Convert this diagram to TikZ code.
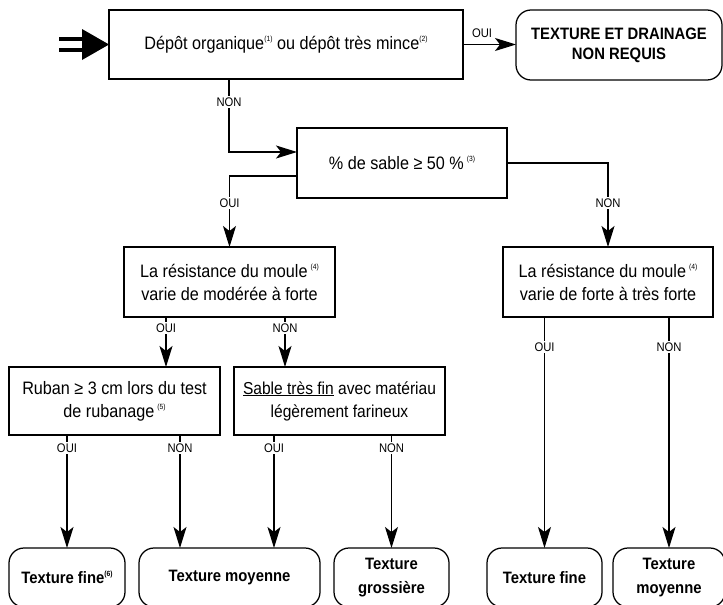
\documentclass[tikz,border=0pt]{standalone}
\usepackage{fontspec}
\setmainfont{Liberation Sans}[FakeStretch=0.9]
\usetikzlibrary{arrows.meta}
% small raised footnote marks, e.g. (1)
\newcommand\fnote[1]{\raisebox{0.8ex}{\fontsize{7.5}{7.5}\selectfont(#1)}}

\begin{document}
\begin{tikzpicture}[x=1pt,y=-1pt,
  every node/.style={inner sep=0pt, outer sep=0pt},
  conn/.style={line width=1.25pt, -{Stealth[length=21pt,width=13pt,inset=5pt]}},
  qbox/.style={draw, line width=1.25pt, align=center, font=\fontsize{18}{23}\selectfont},
  endbox/.style={draw, line width=1.25pt, rounded corners=15pt, align=center,
                 font=\bfseries\fontsize{16.5}{24}\selectfont},
  lab/.style={fill=white, inner sep=2pt, font=\fontsize{12.5}{13}\selectfont},
]
\useasboundingbox (0,0) rectangle (723,605);
\clip (0,0) rectangle (723,605);

% ---- decision boxes ----
\node[qbox, minimum width=354pt, minimum height=69pt] (q1) at (286,44.5)
  {Dépôt organique\fnote{1} ou dépôt très mince\fnote{2}};
\node[endbox, minimum width=206pt, minimum height=70pt,
      font=\bfseries\fontsize{16.5}{20}\selectfont] (r0) at (619,45)
  {TEXTURE ET DRAINAGE\\NON REQUIS};
\node[qbox, minimum width=210pt, minimum height=70pt] (q2) at (402,163)
  {\% de sable ≥ 50 \%\,\fnote{3}};
\node[qbox, minimum width=211pt, minimum height=70pt] (q3) at (229.5,282)
  {La résistance du moule\,\fnote{4}\\varie de modérée à forte};
\node[qbox, minimum width=210pt, minimum height=70pt] (q4) at (608,282)
  {La résistance du moule\,\fnote{4}\\varie de forte à très forte};
\node[qbox, minimum width=211pt, minimum height=68pt] (q5) at (114.5,401)
  {Ruban ≥ 3 cm lors du test\\de rubanage\,\fnote{5}};
\node[qbox, minimum width=211pt, minimum height=68pt,
      font=\fontsize{17.3}{23}\selectfont] (q6) at (339.5,401)
  {\underline{Sable très fin} avec matériau\\légèrement farineux};

% ---- end results ----
\node[endbox, minimum width=116pt, minimum height=59pt] (e1) at (67,577.5)
  {Texture fine\fnote{6}};
\node[endbox, minimum width=181pt, minimum height=59pt] (e2) at (229.5,577.5)
  {Texture moyenne};
\node[endbox, minimum width=115pt, minimum height=59pt] (e3) at (391.5,577.5)
  {Texture\\grossière};
\node[endbox, minimum width=115pt, minimum height=59pt] (e4) at (544.5,577.5)
  {Texture fine};
\node[endbox, minimum width=112pt, minimum height=59pt] (e5) at (669,577.5)
  {Texture\\moyenne};

% ---- entry arrow ----
\fill (59,36.5) rectangle (82,40.5);
\fill (59,47.5) rectangle (82,51.5);
\fill (82,29) -- (q1.west) -- (82,60) -- cycle;

% ---- connectors ----
\coordinate (xa) at (229,0);
\draw[conn] (q1.east) -- (q1.east -| r0.west);
\node[font=\fontsize{12.5}{13}\selectfont] (t1) at (482,33) {OUI};

\draw[conn] (q1.south -| xa) |- ([yshift=11pt]q2.west);
\node[lab] (t2) at (229,102) {NON};

\draw[conn] ([yshift=-13pt]q2.west) -| (q3.north);
\node[lab] (t3) at (229.5,203) {OUI};
\draw[conn] (q2.east) -| (q4.north);
\node[lab] (t4) at (608,203) {NON};

\draw[conn] ([xshift=-63.5pt]q3.south) -- ([xshift=-63.5pt]q3.south |- q5.north);
\node[lab] (t5) at (166,328) {OUI};
\draw[conn] ([xshift=55.5pt]q3.south) -- ([xshift=55.5pt]q3.south |- q6.north);
\node[lab] (t6) at (285,328) {NON};

\draw[conn] (e4.north |- q4.south) -- (e4.north);
\node[lab] (t7) at (544.5,347) {OUI};
\draw[conn] (e5.north |- q4.south) -- (e5.north);
\node[lab] (t8) at (669,347) {NON};

\draw[conn] (e1.north |- q5.south) -- (e1.north);
\node[lab] (t9) at (67,448) {OUI};
\draw[conn] ([xshift=-49.5pt]e2.north |- q5.south) -- ([xshift=-49.5pt]e2.north);
\node[lab] (t10) at (180,448) {NON};
\draw[conn] ([xshift=44.5pt]e2.north |- q6.south) -- ([xshift=44.5pt]e2.north);
\node[lab] (t11) at (274,448) {OUI};
\draw[conn] (e3.north |- q6.south) -- (e3.north);
\node[lab] (t12) at (391.5,448) {NON};
\end{tikzpicture}
\end{document}
